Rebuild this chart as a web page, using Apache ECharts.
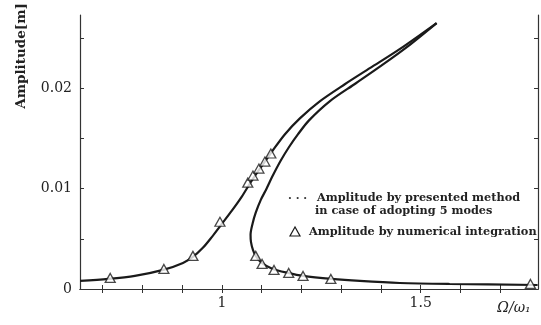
<!DOCTYPE html>
<html><head><meta charset="utf-8">
<script src="https://cdn.jsdelivr.net/npm/echarts@6/dist/echarts.min.js"></script>
<style>html,body{margin:0;padding:0;background:#fff}#c{width:541px;height:325px}</style>
</head><body><div id="c"></div>
<script>
// Upper / left branch (stable resonance branch), [Ω/ω1, amplitude m]
const upperBranch = [
  [0.643,0.0008],[0.714,0.0010],[0.781,0.0013],[0.852,0.0019],[0.902,0.0026],[0.927,0.0032],
  [0.952,0.0041],[0.975,0.0052],[1.000,0.0065],[1.025,0.0078],[1.050,0.0092],[1.075,0.0108],
  [1.101,0.0123],[1.126,0.0137],[1.158,0.0154],[1.196,0.0170],[1.246,0.0187],[1.309,0.0204],
  [1.372,0.0220],[1.447,0.0239],[1.540,0.0265]
];
// Unstable branch from the tip down to the turning point, then the lower branch
const backboneBranch = [
  [1.540,0.0265],[1.465,0.0241],[1.399,0.0222],[1.337,0.0205],[1.271,0.0187],[1.219,0.0168],
  [1.191,0.0154],[1.168,0.0141],[1.148,0.0128],[1.128,0.0113],[1.111,0.0099],[1.098,0.0089],
  [1.085,0.0076],[1.077,0.0065],[1.072,0.0054],[1.073,0.0047],[1.078,0.0039],
  [1.085,0.0033],[1.100,0.0026],[1.128,0.0020],[1.166,0.0016],[1.204,0.0013],[1.276,0.0010],
  [1.347,0.0008],[1.447,0.0006],[1.573,0.0005],[1.794,0.0004]
];
// Numerical integration results (triangles)
const numericalPoints = [
  [0.719,0.0011],[0.854,0.0020],[0.927,0.0033],[0.995,0.0067],[1.065,0.0106],[1.078,0.0113],
  [1.093,0.0120],[1.108,0.0127],[1.123,0.0135],
  [1.085,0.0033],[1.101,0.0025],[1.131,0.0019],[1.168,0.0016],[1.204,0.0013],[1.274,0.0010],[1.776,0.0005]
];
const xTickValues = [0.7,0.8,0.9,1.0,1.1,1.2,1.3,1.4,1.5,1.6,1.7];
const xLabelValues = [1,1.5];
const yTickValues = [0,0.005,0.01,0.015,0.02,0.025];
const yLabelValues = [0,0.01,0.02];
const legendLine1 = 'Amplitude by presented method';
const legendLine2 = 'in case of adopting 5 modes';
const legendLine3 = 'Amplitude by numerical integration';

const serif = '"DejaVu Serif","Liberation Serif",serif';
const ink = '#1a1a1a';
const chart = echarts.init(document.getElementById('c'));
const axisLineStyle = {lineStyle:{color:'#333',width:1.2}};
chart.setOption({
  animation:false,
  grid:{left:80,right:3,top:15,bottom:36,show:false},
  xAxis:[{
    type:'value',min:0.643,max:1.795,
    axisLine:axisLineStyle,splitLine:{show:false},
    axisTick:{inside:true,length:4,customValues:xTickValues,lineStyle:{color:'#333'}},
    axisLabel:{customValues:xLabelValues,margin:7,fontFamily:serif,fontSize:14,color:'#222',
      formatter:v=>String(+v.toFixed(2))}
  },{
    type:'value',min:0.643,max:1.795,position:'top',
    axisLine:axisLineStyle,splitLine:{show:false},
    axisTick:{inside:true,length:4,customValues:xTickValues,lineStyle:{color:'#333'}},
    axisLabel:{show:false}
  }],
  yAxis:[{
    type:'value',min:0,max:0.0273,
    axisLine:{show:true,lineStyle:{color:'#333',width:1.2}},splitLine:{show:false},
    axisTick:{show:true,inside:true,length:4,customValues:yTickValues,lineStyle:{color:'#333'}},
    axisLabel:{customValues:yLabelValues,margin:8,fontFamily:serif,fontSize:14,color:'#222',
      formatter:v=>v===0?'0':v.toFixed(2)}
  },{
    type:'value',min:0,max:0.0273,position:'right',
    axisLine:{show:true,lineStyle:{color:'#333',width:1.2}},splitLine:{show:false},
    axisTick:{show:true,inside:true,length:4,customValues:yTickValues,lineStyle:{color:'#333'}},
    axisLabel:{show:false}
  }],
  series:[
    {type:'line',name:'upper',data:upperBranch,smooth:0.3,showSymbol:false,
      lineStyle:{color:ink,width:2.2},z:2},
    {type:'line',name:'lower',data:backboneBranch,smooth:0.3,showSymbol:false,
      lineStyle:{color:ink,width:2.2},z:2},
    {type:'scatter',name:'numerical',data:numericalPoints,symbol:'triangle',symbolSize:[10,9],
      itemStyle:{color:'#fff',borderColor:ink,borderWidth:1.3},z:3}
  ],
  graphic:[
    {type:'text',x:21,y:56,rotation:Math.PI/2,
      style:{text:'Amplitude[m]',fontFamily:serif,fontWeight:'bold',fontSize:13.5,fill:'#222',
        align:'center',verticalAlign:'middle'}},
    {type:'text',x:514,y:308,
      style:{text:'Ω/ω₁',fontFamily:serif,fontStyle:'italic',fontSize:14,fill:'#222',
        align:'center',verticalAlign:'middle'}},
    {type:'text',x:288,y:199,style:{text:'· · ·',fontFamily:serif,fontWeight:'bold',fontSize:11,fill:'#333',verticalAlign:'middle'}},
    {type:'text',x:317,y:198,style:{text:legendLine1,fontFamily:serif,fontWeight:'bold',fontSize:11.3,fill:'#222',verticalAlign:'middle'}},
    {type:'text',x:315,y:211,style:{text:legendLine2,fontFamily:serif,fontWeight:'bold',fontSize:11.3,fill:'#222',verticalAlign:'middle'}},
    {type:'polygon',shape:{points:[[295,227],[290,236],[300,236]]},style:{fill:'#fff',stroke:ink,lineWidth:1.2}},
    {type:'text',x:309,y:232,style:{text:legendLine3,fontFamily:serif,fontWeight:'bold',fontSize:11.3,fill:'#222',verticalAlign:'middle'}}
  ]
});
</script></body></html>
